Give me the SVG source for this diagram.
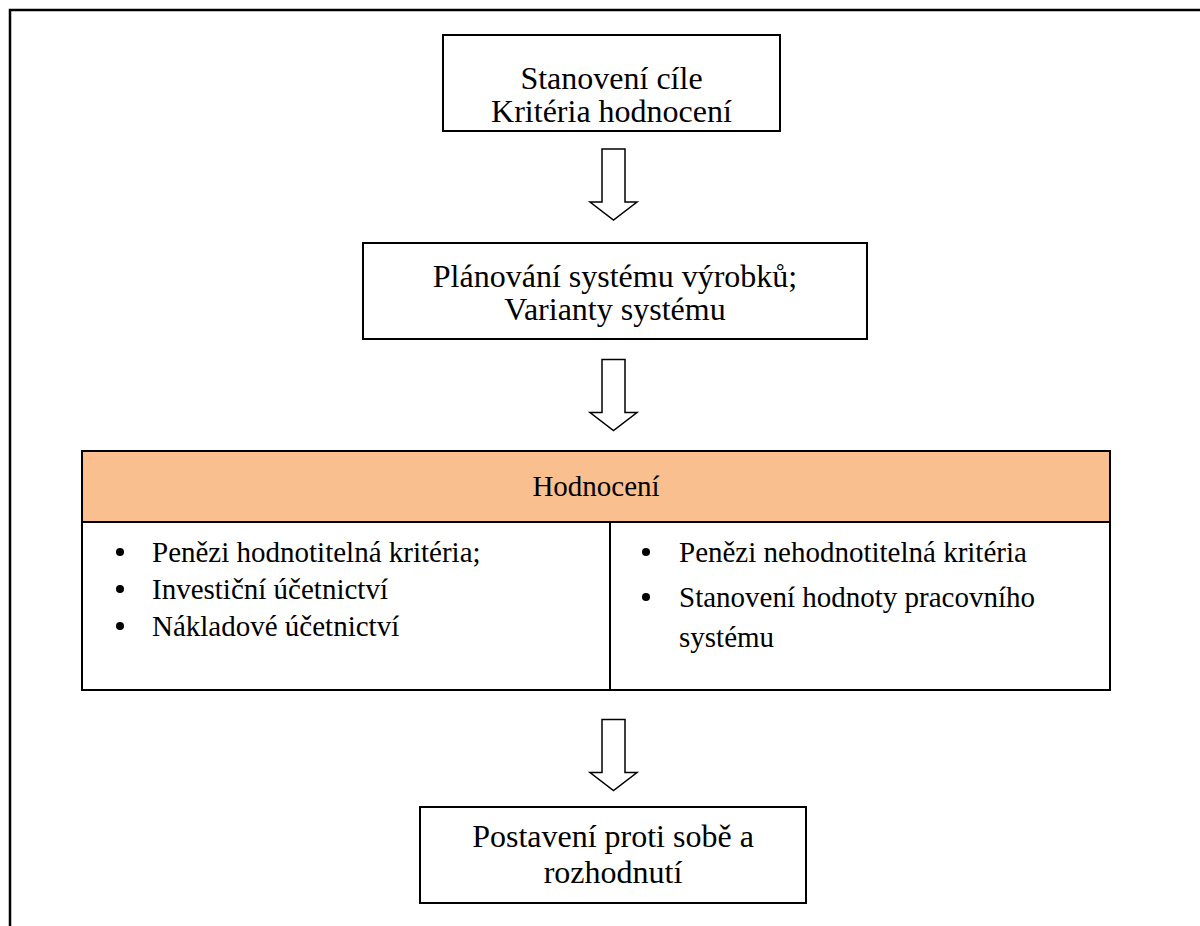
<svg xmlns="http://www.w3.org/2000/svg" width="1200" height="926" viewBox="0 0 1200 926">
  <style>
    .box { fill: #ffffff; stroke: #000000; stroke-width: 2; }
    .hdr { fill: #F9BF8F; stroke: #000000; stroke-width: 2; }
    .t { font-family: "Liberation Serif", "Times New Roman", serif; font-size: 32px; fill: #000000; }
    .s { font-family: "Liberation Serif", "Times New Roman", serif; font-size: 29px; fill: #000000; }
    .c { text-anchor: middle; }
    .arrow { fill: #ffffff; stroke: #000000; stroke-width: 1.5; stroke-linejoin: miter; }
    .frame { fill: none; stroke: #000000; stroke-width: 2.5; }
  </style>
  <defs>
    <path id="downArrow" d="M -11.5 0 L 11.5 0 L 11.5 53 L 23.5 53 L 0 71 L -23.5 53 L -11.5 53 Z"/>
  </defs>
  <rect width="1200" height="926" fill="#ffffff"/>
  <g id="frame">
    <path class="frame" d="M 1200 10 L 10 10 L 10 926"/>
  </g>

  <g id="node-cile">
    <rect class="box" x="443" y="35" width="337" height="96"/>
    <text class="t c" x="611.5" y="89">Stanovení cíle</text>
    <text class="t c" x="611.5" y="122">Kritéria hodnocení</text>
  </g>

  <g id="node-planovani">
    <rect class="box" x="363" y="243" width="504" height="96"/>
    <text class="t c" x="615" y="287">Plánování systému výrobků;</text>
    <text class="t c" x="615" y="320">Varianty systému</text>
  </g>

  <g id="node-hodnoceni">
    <rect class="hdr" x="82" y="451" width="1028" height="71"/>
    <rect class="box" x="82" y="522" width="1028" height="168"/>
    <line x1="610" y1="522" x2="610" y2="690" stroke="#000" stroke-width="2"/>
    <text class="s c" x="596" y="496">Hodnocení</text>
    <circle cx="120" cy="552" r="4"/>
    <text class="s" x="152" y="562">Penězi hodnotitelná kritéria;</text>
    <circle cx="120" cy="589" r="4"/>
    <text class="s" x="152" y="599">Investiční účetnictví</text>
    <circle cx="120" cy="626" r="4"/>
    <text class="s" x="152" y="636">Nákladové účetnictví</text>
    <circle cx="646" cy="552" r="4"/>
    <text class="s" x="679" y="562">Penězi nehodnotitelná kritéria</text>
    <circle cx="646" cy="597" r="4"/>
    <text class="s" x="679" y="607">Stanovení hodnoty pracovního</text>
    <text class="s" x="679" y="647">systému</text>
  </g>

  <g id="node-rozhodnuti">
    <rect class="box" x="420" y="807" width="386" height="96"/>
    <text class="t c" x="613" y="847">Postavení proti sobě a</text>
    <text class="t c" x="613" y="883">rozhodnutí</text>
  </g>

  <g id="connectors">
    <use href="#downArrow" class="arrow" transform="translate(613.5 149)"/>
    <use href="#downArrow" class="arrow" transform="translate(613.5 359.5)"/>
    <use href="#downArrow" class="arrow" transform="translate(613.5 719.5)"/>
  </g>
</svg>
